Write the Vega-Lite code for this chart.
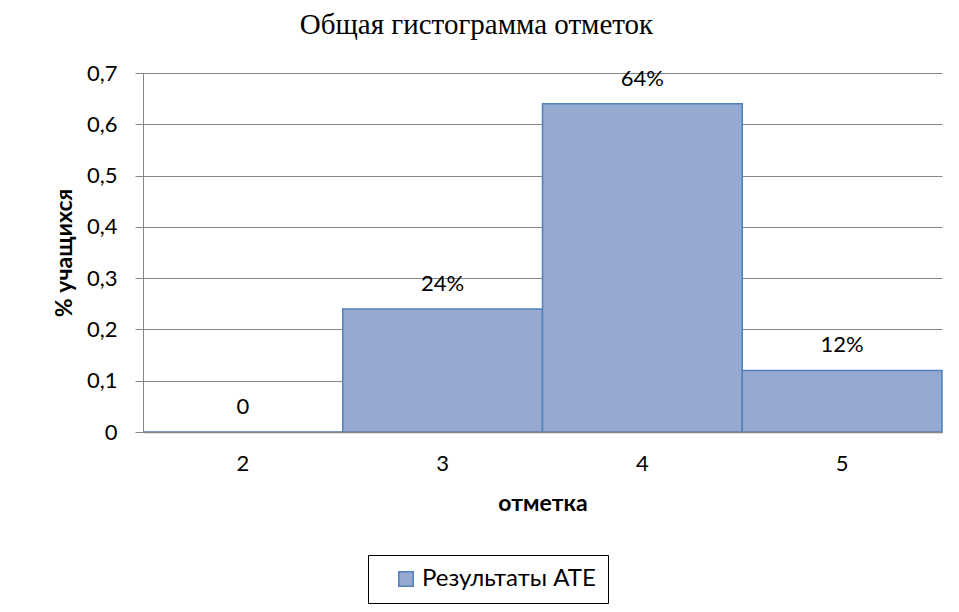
{
  "$schema": "https://vega.github.io/schema/vega-lite/v6.json",
  "autosize": {"type": "none"},
  "padding": {"left": 143, "top": 73, "right": 17, "bottom": 180},
  "width": 799,
  "height": 359,
  "background": "white",
  "title": {
    "text": "Общая гистограмма отметок",
    "font": "Liberation Serif",
    "fontSize": 29,
    "fontWeight": "normal",
    "color": "black",
    "anchor": "middle",
    "dx": -66,
    "offset": 22
  },
  "data": {
    "values": [
      {"grade": "2", "value": 0, "label": "0", "series": "Результаты АТЕ"},
      {"grade": "3", "value": 0.24, "label": "24%", "series": "Результаты АТЕ"},
      {"grade": "4", "value": 0.64, "label": "64%", "series": "Результаты АТЕ"},
      {"grade": "5", "value": 0.12, "label": "12%", "series": "Результаты АТЕ"}
    ]
  },
  "encoding": {
    "x": {
      "field": "grade",
      "type": "nominal",
      "sort": null,
      "scale": {"paddingInner": 0, "paddingOuter": 0},
      "axis": {
        "title": "отметка",
        "labelAngle": 0,
        "ticks": false,
        "labelPadding": 21,
        "titlePadding": 18,
        "domainColor": "#868686",
        "domainWidth": 1.5,
        "zindex": 1,
        "labelFont": "Lato",
        "labelFontSize": 22,
        "labelColor": "black",
        "titleFont": "Lato",
        "titleFontSize": 23,
        "titleFontWeight": "bold",
        "titleColor": "black",
        "grid": false
      }
    },
    "y": {
      "field": "value",
      "type": "quantitative",
      "scale": {"domain": [0, 0.7], "nice": false},
      "axis": {
        "title": "% учащихся",
        "values": [0, 0.1, 0.2, 0.3, 0.4, 0.5, 0.6, 0.7],
        "labelExpr": "datum.value == 0 ? '0' : replace(format(datum.value, '.1f'), '.', ',')",
        "tickSize": 8,
        "tickColor": "#868686",
        "domainColor": "#868686",
        "gridColor": "#868686",
        "grid": true,
        "labelPadding": 18,
        "titlePadding": 10,
        "labelFont": "Lato",
        "labelFontSize": 22,
        "labelColor": "black",
        "titleFont": "Lato",
        "titleFontSize": 23,
        "titleFontWeight": "bold",
        "titleColor": "black"
      }
    }
  },
  "layer": [
    {
      "mark": {"type": "bar", "stroke": "#4F81BD", "strokeWidth": 1.5},
      "encoding": {
        "color": {
          "field": "series",
          "type": "nominal",
          "scale": {"range": ["#95A9D1"]},
          "legend": {
            "title": null,
            "orient": "none",
            "legendX": 225,
            "legendY": 482,
            "strokeColor": "black",
            "padding": 12,
            "symbolType": "square",
            "symbolSize": 210,
            "symbolStrokeColor": "#4F81BD",
            "symbolStrokeWidth": 1.5,
            "symbolOpacity": 1,
            "labelFont": "Lato",
            "labelFontSize": 24,
            "labelLimit": 400,
            "labelColor": "black",
            "labelOffset": 4,
            "symbolOffset": 14
          }
        }
      }
    },
    {
      "mark": {"type": "text", "dy": -25, "font": "Lato", "fontSize": 22, "color": "black", "baseline": "middle"},
      "encoding": {
        "text": {"field": "label"}
      }
    }
  ],
  "config": {
    "view": {"stroke": null}
  }
}
